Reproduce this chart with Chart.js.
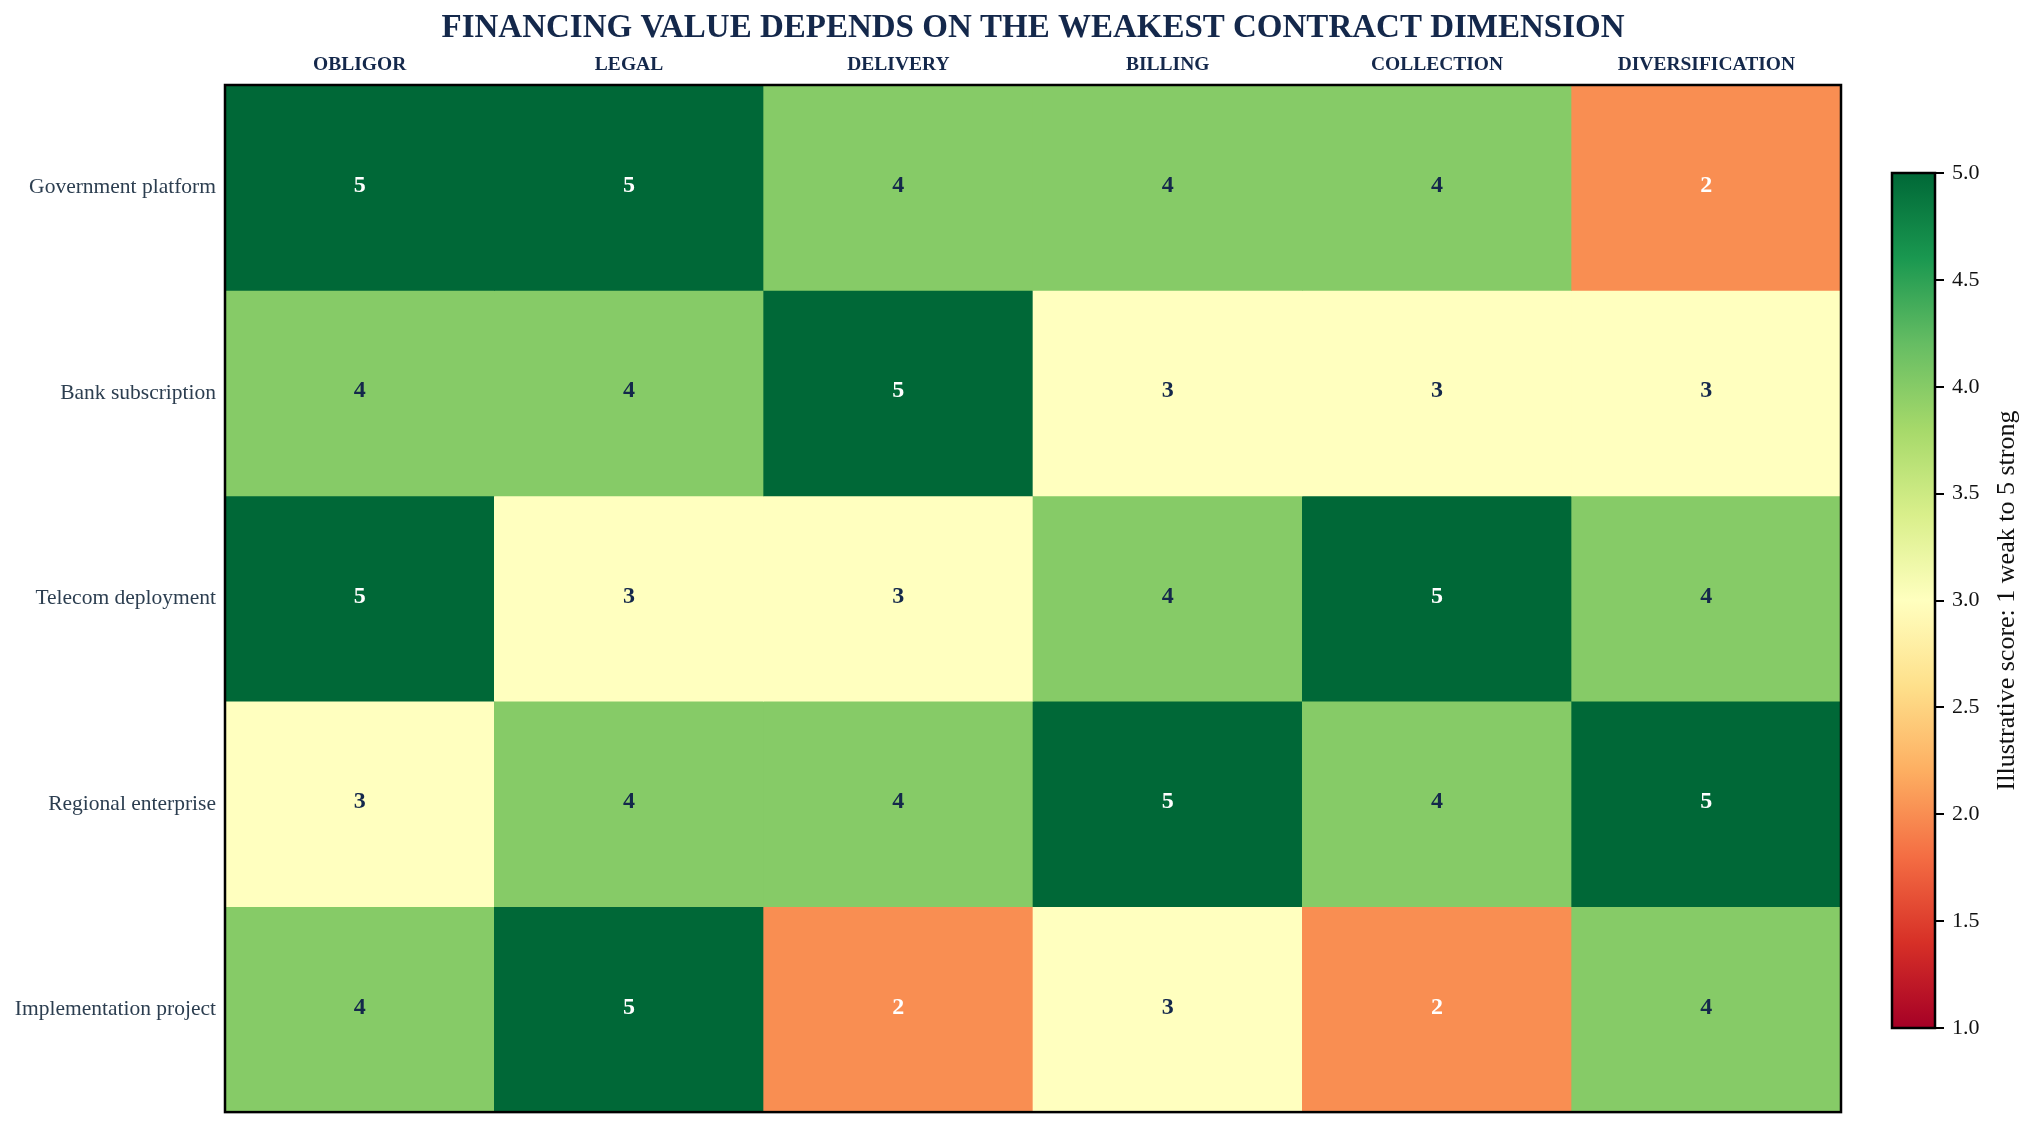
<!DOCTYPE html>
<html>
<head>
<meta charset="utf-8">
<script src="https://cdn.jsdelivr.net/npm/chart.js@4.4.1/dist/chart.umd.min.js"></script>
<style>
  html, body { margin: 0; padding: 0; background: #ffffff; }
  #wrap { position: relative; width: 2034px; height: 1134px; overflow: hidden; }
  #main { position: absolute; left: 0; top: 0; }
  #cbar { position: absolute; left: 1860px; top: 0; }
</style>
</head>
<body>
<div id="wrap">
  <canvas id="main" width="2034" height="1134"></canvas>
  <canvas id="cbar" width="174" height="1134"></canvas>
</div>
<script>
// ---- data ----
const TITLE = 'FINANCING VALUE DEPENDS ON THE WEAKEST CONTRACT DIMENSION';
const columns = ['OBLIGOR', 'LEGAL', 'DELIVERY', 'BILLING', 'COLLECTION', 'DIVERSIFICATION'];
const rows = ['Government platform', 'Bank subscription', 'Telecom deployment', 'Regional enterprise', 'Implementation project'];
const governmentScores = [5, 5, 4, 4, 4, 2];
const bankScores = [4, 4, 5, 3, 3, 3];
const telecomScores = [5, 3, 3, 4, 5, 4];
const regionalScores = [3, 4, 4, 5, 4, 5];
const implementationScores = [4, 5, 2, 3, 2, 4];
const scores = [governmentScores, bankScores, telecomScores, regionalScores, implementationScores];
const colorbarLabel = 'Illustrative score: 1 weak to 5 strong';
const colorbarTicks = [1.0, 1.5, 2.0, 2.5, 3.0, 3.5, 4.0, 4.5, 5.0];
const scoreMin = 1, scoreMax = 5;

// ---- styling ----
const SERIF = '"Liberation Serif", "Times New Roman", serif';
const NAVY = '#14284b';
const ROWCOL = '#2c3e50';
const RdYlGn = ['#a50026', '#d73027', '#f46d43', '#fdae61', '#fee08b', '#ffffbf',
                '#d9ef8b', '#a6d96a', '#66bd63', '#1a9850', '#006837'];

function hexToRgb(h) {
  return [parseInt(h.slice(1, 3), 16), parseInt(h.slice(3, 5), 16), parseInt(h.slice(5, 7), 16)];
}
function cmap(v) {
  let t = (v - scoreMin) / (scoreMax - scoreMin);
  t = Math.max(0, Math.min(1, t));
  const pos = t * (RdYlGn.length - 1);
  const i = Math.min(Math.floor(pos), RdYlGn.length - 2);
  const f = pos - i;
  const a = hexToRgb(RdYlGn[i]), b = hexToRgb(RdYlGn[i + 1]);
  const c = a.map((x, k) => Math.round(x + (b[k] - x) * f));
  return 'rgb(' + c.join(',') + ')';
}
function textColor(v) {
  return (v >= 4.5 || v <= 2.2) ? '#ffffff' : NAVY;
}

// ---- plugins ----
const frameAndText = {
  id: 'frameAndText',
  afterDatasetsDraw(chart) {
    const ctx = chart.ctx;
    ctx.save();
    ctx.textAlign = 'center';
    ctx.textBaseline = 'middle';
    ctx.font = 'bold 24px ' + SERIF;
    chart.data.datasets.forEach((ds, di) => {
      const meta = chart.getDatasetMeta(di);
      meta.data.forEach((bar, ci) => {
        const p = bar.getProps(['x', 'y', 'base'], true);
        const v = scores[di][ci];
        ctx.fillStyle = textColor(v);
        ctx.fillText(String(v), p.x, (p.y + p.base) / 2 - 2);
      });
    });
    const a = chart.chartArea;
    ctx.lineWidth = 2.5;
    ctx.strokeStyle = '#000000';
    ctx.strokeRect(a.left, a.top, a.right - a.left, a.bottom - a.top);
    ctx.restore();
  }
};

new Chart(document.getElementById('main'), {
  type: 'bar',
  data: {
    labels: columns,
    datasets: rows.map((r, ri) => ({
      label: r,
      data: columns.map(() => [ri - 0.5, ri + 0.5]),
      backgroundColor: scores[ri].map(cmap),
      borderWidth: 0,
      grouped: false,
      barPercentage: 1.0,
      categoryPercentage: 1.0
    }))
  },
  options: {
    responsive: false,
    animation: false,
    devicePixelRatio: 1,
    layout: { padding: { left: 0, right: 193, top: 0, bottom: 19 } },
    plugins: {
      legend: { display: false },
      tooltip: { enabled: false },
      title: {
        display: true,
        text: TITLE,
        fullSize: false,
        color: NAVY,
        font: { family: SERIF, size: 33, weight: 'bold' },
        padding: { top: 9, bottom: 0 }
      }
    },
    scales: {
      x: {
        type: 'category',
        position: 'top',
        grid: { display: false, drawTicks: false },
        border: { display: false },
        ticks: {
          color: NAVY,
          font: { family: SERIF, size: 19.5, weight: 'bold' },
          padding: 8,
          maxRotation: 0,
          autoSkip: false
        },
        afterFit(s) { s.height = 36.4; }
      },
      y: {
        type: 'linear',
        position: 'left',
        reverse: true,
        min: -0.5,
        max: rows.length - 0.5,
        grid: { display: false, drawTicks: false },
        border: { display: false },
        afterBuildTicks(ax) { ax.ticks = rows.map((_, i) => ({ value: i })); },
        ticks: {
          color: ROWCOL,
          font: { family: SERIF, size: 21.5 },
          padding: 9,
          autoSkip: false,
          callback: (v) => rows[v]
        },
        afterFit(s) { s.width = 225; }
      }
    }
  },
  plugins: [frameAndText]
});

// ---- colorbar ----
const cbarDecor = {
  id: 'cbarDecor',
  afterDraw(chart) {
    const ctx = chart.ctx;
    const a = chart.chartArea;
    ctx.save();
    ctx.lineWidth = 2.5;
    ctx.strokeStyle = '#000000';
    ctx.strokeRect(a.left, a.top, a.right - a.left, a.bottom - a.top);
    ctx.translate(147, (a.top + a.bottom) / 2);
    ctx.rotate(-Math.PI / 2);
    ctx.textAlign = 'center';
    ctx.textBaseline = 'middle';
    ctx.fillStyle = '#111111';
    ctx.font = '26px ' + SERIF;
    ctx.fillText(colorbarLabel, 0, 0);
    ctx.restore();
  }
};

new Chart(document.getElementById('cbar'), {
  type: 'bar',
  data: {
    labels: [''],
    datasets: [{
      data: [[scoreMin, scoreMax]],
      borderWidth: 0,
      barPercentage: 1.0,
      categoryPercentage: 1.0,
      backgroundColor(ctx) {
        const a = ctx.chart.chartArea;
        if (!a) return RdYlGn[5];
        const g = ctx.chart.ctx.createLinearGradient(0, a.bottom, 0, a.top);
        RdYlGn.forEach((c, i) => g.addColorStop(i / (RdYlGn.length - 1), c));
        return g;
      }
    }]
  },
  options: {
    responsive: false,
    animation: false,
    devicePixelRatio: 1,
    layout: { padding: { left: 32, right: 0, top: 173, bottom: 106 } },
    plugins: { legend: { display: false }, tooltip: { enabled: false }, title: { display: false } },
    scales: {
      x: { display: false },
      y: {
        type: 'linear',
        position: 'right',
        min: scoreMin,
        max: scoreMax,
        afterBuildTicks(ax) { ax.ticks = colorbarTicks.map(v => ({ value: v })); },
        grid: { drawOnChartArea: false, drawTicks: true, tickLength: 9, color: '#000000', lineWidth: 2 },
        border: { display: false },
        ticks: {
          color: '#111111',
          font: { family: SERIF, size: 22 },
          padding: 8,
          autoSkip: false,
          callback: (v) => Number(v).toFixed(1)
        },
        afterFit(s) { s.width = 99; }
      }
    }
  },
  plugins: [cbarDecor]
});
</script>
</body>
</html>
